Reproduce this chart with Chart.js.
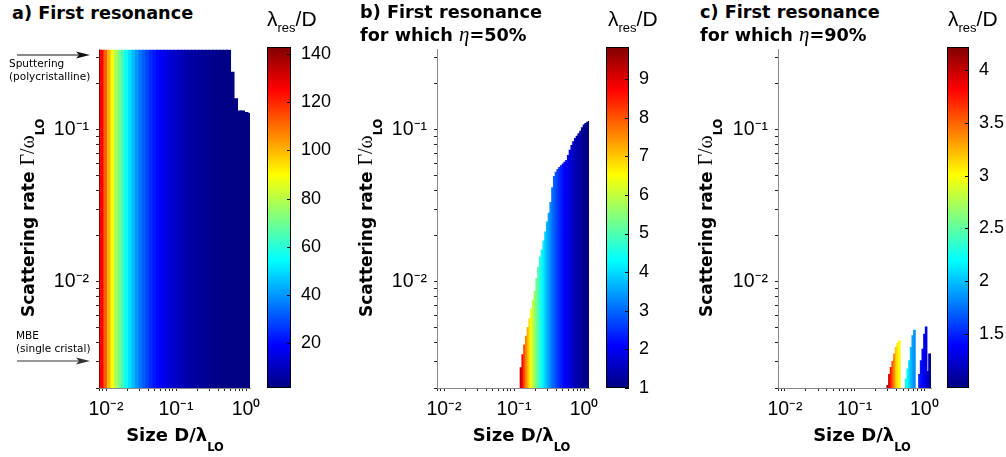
<!DOCTYPE html>
<html>
<head>
<meta charset="utf-8">
<script src="https://cdn.jsdelivr.net/npm/chart.js@4.4.1/dist/chart.umd.min.js"></script>
<style>
  body { margin: 0; background: #fff; }
  #fig { position: relative; width: 1006px; height: 457px; overflow: hidden; font-family: "DejaVu Sans", sans-serif; color: #000; }
  canvas { position: absolute; }
  .t { position: absolute; white-space: nowrap; line-height: 1; }
  .ttl { font-weight: bold; font-size: 17.7px; }
  .eta { font-family: "Liberation Serif", serif; font-style: italic; font-weight: normal; font-size: 21px; line-height: 0; }
  .cbt { font-family: "Liberation Sans", sans-serif; font-size: 21px; }
  .cbs { font-size: 13px; position: relative; top: 6px; line-height: 0; }
  .xt { font-weight: bold; font-size: 18px; transform: translateX(-50%); }
  .yt { font-weight: bold; font-size: 17px; transform: rotate(-90deg); transform-origin: 0 0; }
  .gw { font-family: "Liberation Serif", serif; font-weight: normal; font-size: 20px; line-height: 0; }
  .lo { font-size: 11.5px; position: relative; top: 10px; line-height: 0; }
  .ann { font-size: 10.5px; line-height: 13px; }
</style>
</head>
<body>
<div id="fig">
  <canvas id="plotA" width="233" height="407" style="left:39px;top:31px"></canvas>
  <canvas id="plotB" width="234" height="407" style="left:377px;top:31px"></canvas>
  <canvas id="plotC" width="235" height="407" style="left:718px;top:31px"></canvas>
  <canvas id="barA" width="69" height="373" style="left:267px;top:31px"></canvas>
  <canvas id="barB" width="68" height="373" style="left:606px;top:31px"></canvas>
  <canvas id="barC" width="67" height="373" style="left:947px;top:31px"></canvas>

  <div class="t ttl" style="left:12px;top:5px">a) First resonance</div>
  <div class="t ttl" style="left:360px;top:4px">b) First resonance</div>
  <div class="t ttl" style="left:360px;top:26.5px">for which <span class="eta">η</span>=50%</div>
  <div class="t ttl" style="left:700px;top:4px">c) First resonance</div>
  <div class="t ttl" style="left:700px;top:26.5px">for which <span class="eta">η</span>=90%</div>

  <div class="t cbt" style="left:267px;top:8px">λ<span class="cbs">res</span>/D</div>
  <div class="t cbt" style="left:608px;top:8px">λ<span class="cbs">res</span>/D</div>
  <div class="t cbt" style="left:948px;top:8px">λ<span class="cbs">res</span>/D</div>

  <div class="t xt" style="left:175px;top:425.7px">Size D/λ<span class="lo">LO</span></div>
  <div class="t xt" style="left:521.5px;top:425.7px">Size D/λ<span class="lo">LO</span></div>
  <div class="t xt" style="left:862px;top:425.7px">Size D/λ<span class="lo">LO</span></div>

  <div class="t yt" style="left:19.5px;top:317px">Scattering rate <span class="gw">Γ/ω</span><span class="lo">LO</span></div>
  <div class="t yt" style="left:358px;top:317px">Scattering rate <span class="gw">Γ/ω</span><span class="lo">LO</span></div>
  <div class="t yt" style="left:698px;top:317px">Scattering rate <span class="gw">Γ/ω</span><span class="lo">LO</span></div>

  <div class="t ann" style="left:9px;top:57.4px">Sputtering<br>(polycristalline)</div>
  <div class="t ann" style="left:16px;top:329.2px">MBE<br>(single cristal)</div>
  <svg style="position:absolute;left:0;top:0" width="100" height="400">
    <line x1="17" y1="55" x2="82" y2="55" stroke="#111" stroke-width="1.2"/>
    <polygon points="90,55 76,51.5 79,55 76,58.5" fill="#111"/>
    <line x1="17" y1="361" x2="82" y2="361" stroke="#333" stroke-width="1.2"/>
    <polygon points="90,361 76,357.5 79,361 76,364.5" fill="#333"/>
  </svg>
</div>

<script>
// axes
const Y_MIN = 0.002, Y_MAX = 0.336;
const X_MIN = 0.00794;
const X_MAX = [1.14, 1.178, 1.25];
const X_TICKS = [0.008, 0.009, 0.01, 0.02, 0.03, 0.04, 0.05, 0.06, 0.07, 0.08, 0.09,
  0.1, 0.2, 0.3, 0.4, 0.5, 0.6, 0.7, 0.8, 0.9, 1];
const X_MAJOR = [0.01, 0.1, 1];
const X_LABELS = ['10⁻²', '10⁻¹', '10⁰'];
const Y_TICKS = [0.002, 0.003, 0.004, 0.005, 0.006, 0.007, 0.008, 0.009,
  0.01, 0.02, 0.03, 0.04, 0.05, 0.06, 0.07, 0.08, 0.09, 0.1, 0.2, 0.3];
const Y_MAJOR = [0.01, 0.1];
const Y_LABELS = ['10⁻²', '10⁻¹'];

// a) first resonance
const A_SIZE = [0.00794, 0.00891, 0.01, 0.01122, 0.01259, 0.01413, 0.01585, 0.01778, 0.01995, 0.02239,
  0.02512, 0.02818, 0.03162, 0.03548, 0.03981, 0.04467, 0.05012, 0.05623, 0.0631, 0.07079,
  0.07943, 0.08913, 0.1, 0.1122, 0.1259, 0.1413, 0.1585, 0.1778, 0.1995, 0.2239,
  0.2512, 0.2818, 0.3162, 0.3548, 0.3981, 0.4467, 0.5012, 0.5623, 0.631, 0.7079,
  0.7943, 0.8913, 1.0, 1.122];
const A_RATIO = [141, 126, 112, 100, 89, 79, 71, 63, 56, 50,
  45, 40, 35, 32, 28, 25, 22, 20, 18, 16,
  14, 12.6, 11.2, 10, 8.9, 7.9, 7.1, 6.3, 5.6, 5.0,
  4.5, 4.0, 3.5, 3.2, 2.8, 2.5, 2.2, 2.0, 1.8, 1.6,
  1.4, 1.26, 1.12, 1.0];
const A_TOP = [0.336, 0.336, 0.336, 0.336, 0.336, 0.336, 0.336, 0.336, 0.336, 0.336,
  0.336, 0.336, 0.336, 0.336, 0.336, 0.336, 0.336, 0.336, 0.336, 0.336,
  0.336, 0.336, 0.336, 0.336, 0.336, 0.336, 0.336, 0.336, 0.336, 0.336,
  0.336, 0.336, 0.336, 0.336, 0.336, 0.336, 0.336, 0.336, 0.239, 0.16,
  0.133, 0.133, 0.13, 0.128];

// b) eta = 50%
const B_SIZE = [0.1259, 0.1334, 0.1413, 0.1496, 0.1585, 0.1679, 0.1778, 0.1884, 0.1995, 0.2113,
  0.2239, 0.2371, 0.2512, 0.2661, 0.2818, 0.2985, 0.3162, 0.335, 0.3548, 0.3758,
  0.3981, 0.4217, 0.4467, 0.4732, 0.5012, 0.5309, 0.5623, 0.5957, 0.631, 0.6683,
  0.7079, 0.7499, 0.7943, 0.8414, 0.8913, 0.9441, 1.0, 1.0593, 1.122, 1.1885];
const B_RATIO = [9.3, 8.7, 8.1, 7.6, 7.2, 6.8, 6.4, 6.0, 5.65, 5.3,
  5.0, 4.7, 4.4, 4.15, 3.95, 3.7, 3.5, 3.3, 3.1, 2.95,
  2.8, 2.65, 2.5, 2.35, 2.25, 2.1, 2.0, 1.9, 1.8, 1.7,
  1.6, 1.5, 1.42, 1.35, 1.28, 1.2, 1.14, 1.08, 1.03, 1.0];
const B_TOP = [0.00274, 0.00334, 0.00386, 0.00441, 0.00504, 0.00575, 0.00667, 0.00764, 0.00873, 0.01057,
  0.01256, 0.01466, 0.0163, 0.01866, 0.02143, 0.02489, 0.02844, 0.03342, 0.04188, 0.04955,
  0.05297, 0.05508, 0.05689, 0.05834, 0.05998, 0.06152, 0.06324, 0.06823, 0.07396, 0.07943,
  0.08395, 0.0881, 0.09141, 0.09462, 0.09863, 0.104, 0.1084, 0.1107, 0.113, 0.114];

// c) eta = 90%, three separate patches
const C_SIZE = [0.2985, 0.3155, 0.3334, 0.3524, 0.3724, 0.3936, 0.4159, 0.4395,
  0.5483, 0.5794, 0.6124, 0.6471, 0.6839, 0.7228,
  0.8531, 0.9016, 0.9528, 1.0069, 1.0641, 1.1246, 1.1885, 1.256];
const C_RATIO = [4.1, 3.9, 3.75, 3.55, 3.4, 3.2, 3.1, 3.0,
  2.3, 2.2, 2.1, 2.0, 1.9, 1.85,
  1.5, 1.45, 1.4, 1.35, 1.3, 1.2, 1.1, 1.05];
const C_TOP = [0.00209, 0.00247, 0.00275, 0.00302, 0.00337, 0.00372, 0.00395, 0.00411,
  0.00231, 0.00269, 0.00305, 0.00372, 0.00444, 0.00483,
  0.00247, 0.00305, 0.00363, 0.00455, 0.00508, 0.00259, 0.00337, 0.00337];

// colour bars
const CBAR_A = [1.3, 143], CBAR_A_TICKS = [20, 40, 60, 80, 100, 120, 140];
const CBAR_B = [1, 9.83], CBAR_B_TICKS = [1, 2, 3, 4, 5, 6, 7, 8, 9];
const CBAR_C = [0.985, 4.22], CBAR_C_TICKS = [1.5, 2, 2.5, 3, 3.5, 4];

const JET_STOPS = [0, 0.125, 0.375, 0.625, 0.875, 1];

function jet(n) {
  n = Math.max(0, Math.min(1, n));
  const c = v => Math.round(255 * Math.max(0, Math.min(1, v)));
  return 'rgb(' + c(Math.min(4 * n - 1.5, -4 * n + 4.5)) + ',' +
    c(Math.min(4 * n - 0.5, -4 * n + 3.5)) + ',' + c(Math.min(4 * n + 0.5, -4 * n + 2.5)) + ')';
}

const tickFont = { family: 'Liberation Sans, Arial, sans-serif', size: 19.5 };

function logAxis(min, max, ticks, major, labels, fit) {
  return {
    type: 'logarithmic', min, max, offset: false,
    afterBuildTicks: s => { s.ticks = ticks.map(v => ({ value: v, major: major.includes(v) })); },
    afterFit: fit,
    grid: { offset: false, drawOnChartArea: false, drawTicks: true, tickLength: 3, color: '#222' },
    border: { color: '#8a8a8a', width: 1 },
    ticks: {
      autoSkip: false, maxRotation: 0, minRotation: 0, padding: 7, color: '#000', font: tickFont,
      callback: v => { const i = major.indexOf(v); return i >= 0 ? labels[i] : ''; }
    }
  };
}

// bars overlap a little so no light seams show between neighbouring columns
function heatmap(id, sizes, ratios, tops, xMax, cbar, flex, pct) {
  new Chart(document.getElementById(id), {
    type: 'bar',
    data: {
      datasets: [{
        data: sizes.map((d, i) => ({ x: d, y: [Y_MIN, tops[i]] })),
        backgroundColor: ratios.map(v => jet((v - cbar[0]) / (cbar[1] - cbar[0]))),
        borderWidth: 0, borderSkipped: false,
        barThickness: flex ? 'flex' : undefined,
        barPercentage: pct, categoryPercentage: 1
      }]
    },
    options: {
      responsive: false, animation: false, events: [],
      layout: { padding: { top: 16, right: 22, left: 0, bottom: 0 } },
      plugins: { legend: { display: false }, tooltip: { enabled: false } },
      scales: {
        x: logAxis(X_MIN, xMax, X_TICKS, X_MAJOR, X_LABELS, s => { s.height = 50; }),
        y: logAxis(Y_MIN, Y_MAX, Y_TICKS, Y_MAJOR, Y_LABELS, s => { s.width = 60; })
      }
    }
  });
}

const colorbarFill = {
  id: 'colorbarFill',
  beforeDatasetsDraw(chart) {
    const { ctx, chartArea: a } = chart;
    const g = ctx.createLinearGradient(0, a.bottom, 0, a.top);
    JET_STOPS.forEach(s => g.addColorStop(s, jet(s)));
    ctx.save();
    ctx.fillStyle = g;
    ctx.fillRect(a.left, a.top, a.width, a.height);
    ctx.restore();
  },
  afterDraw(chart) {
    const { ctx, chartArea: a, scales: { y } } = chart;
    ctx.save();
    ctx.strokeStyle = '#000';
    ctx.lineWidth = 1;
    ctx.strokeRect(a.left + 0.5, a.top + 0.5, a.width - 1, a.height - 1);
    y.ticks.forEach(t => {
      const py = Math.round(y.getPixelForValue(t.value)) + 0.5;
      ctx.beginPath();
      ctx.moveTo(a.right - 4, py);
      ctx.lineTo(a.right, py);
      ctx.stroke();
    });
    ctx.restore();
  }
};

function colorbar(id, range, ticks) {
  new Chart(document.getElementById(id), {
    type: 'scatter',
    data: { datasets: [] },
    options: {
      responsive: false, animation: false, events: [],
      layout: { padding: { top: 16, bottom: 16, left: 0, right: 0 } },
      plugins: { legend: { display: false }, tooltip: { enabled: false } },
      scales: {
        x: { display: false, min: 0, max: 1 },
        y: {
          position: 'right', min: range[0], max: range[1],
          afterBuildTicks: s => { s.ticks = ticks.map(v => ({ value: v })); },
          afterFit: s => { s.width = 45; },
          grid: { display: false }, border: { display: false },
          ticks: { padding: 2, color: '#000', font: { family: 'Liberation Sans, Arial, sans-serif', size: 18 }, callback: v => String(v) }
        }
      }
    },
    plugins: [colorbarFill]
  });
}

heatmap('plotA', A_SIZE, A_RATIO, A_TOP, X_MAX[0], CBAR_A, true, 1.25);
heatmap('plotB', B_SIZE, B_RATIO, B_TOP, X_MAX[1], CBAR_B, false, 1.55);
heatmap('plotC', C_SIZE, C_RATIO, C_TOP, X_MAX[2], CBAR_C, false, 1.55);
colorbar('barA', CBAR_A, CBAR_A_TICKS);
colorbar('barB', CBAR_B, CBAR_B_TICKS);
colorbar('barC', CBAR_C, CBAR_C_TICKS);
</script>
</body>
</html>
